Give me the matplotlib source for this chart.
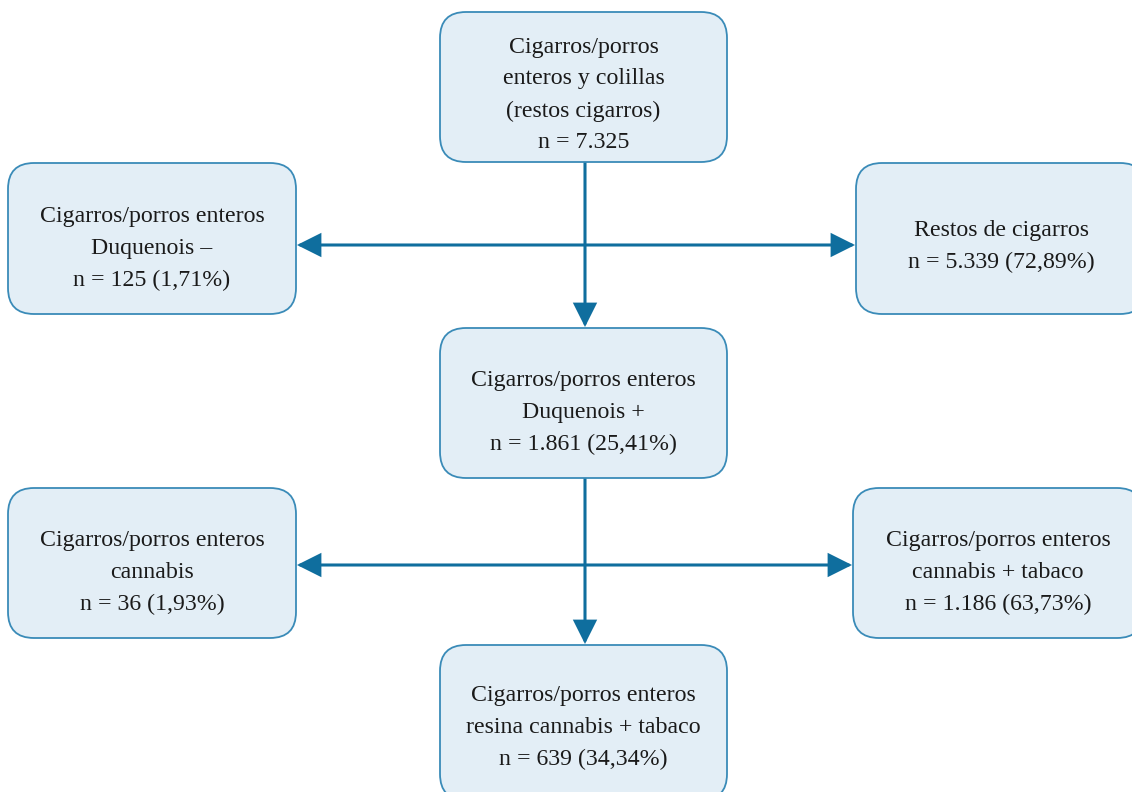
import matplotlib.pyplot as plt
from matplotlib.patches import FancyBboxPatch, FancyArrowPatch

# box labels (flowchart content)
top_label = "Cigarros/porros\nenteros y colillas\n(restos cigarros)\nn = 7.325"
left1_label = "Cigarros/porros enteros\nDuquenois –\nn = 125 (1,71%)"
right1_label = "Restos de cigarros\nn = 5.339 (72,89%)"
mid_label = "Cigarros/porros enteros\nDuquenois +\nn = 1.861 (25,41%)"
left2_label = "Cigarros/porros enteros\ncannabis\nn = 36 (1,93%)"
right2_label = "Cigarros/porros enteros\ncannabis + tabaco\nn = 1.186 (63,73%)"
bottom_label = "Cigarros/porros enteros\nresina cannabis + tabaco\nn = 639 (34,34%)"

FILL = "#e3eef6"
EDGE = "#3a8bb8"
ARROW = "#0f6e9e"

fig = plt.figure(figsize=(11.32, 7.92), dpi=100)
ax = fig.add_axes([0, 0, 1, 1])
ax.set_xlim(0, 1132)
ax.set_ylim(792, 0)
ax.axis("off")


def box(x0, y0, x1, y1, label, dy=10):
    p = FancyBboxPatch((x0, y0), x1 - x0, y1 - y0,
                       boxstyle="round,pad=0,rounding_size=26",
                       facecolor=FILL, edgecolor=EDGE, lw=1.3, zorder=2)
    ax.add_patch(p)
    ax.text((x0 + x1) / 2, (y0 + y1) / 2 + dy, label, ha="center", va="center",
            fontsize=17.2, family="Liberation Serif", color="#1a1a1a",
            linespacing=1.68, zorder=3)


box(440, 12, 727, 162, top_label, dy=8)
box(8, 163, 296, 314, left1_label)
box(856, 163, 1146, 314, right1_label, dy=8)
box(440, 328, 727, 478, mid_label)
box(8, 488, 296, 638, left2_label)
box(853, 488, 1143, 638, right2_label)
box(440, 645, 727, 800, bottom_label, dy=5)


def arrow(p0, p1, style="-|>"):
    a = FancyArrowPatch(p0, p1, arrowstyle=style + ",head_length=1.0,head_width=0.5",
                        color=ARROW, lw=2.2, mutation_scale=14,
                        shrinkA=0, shrinkB=0, joinstyle="miter", zorder=1)
    ax.add_patch(a)


# first level
arrow((585, 162), (585, 327))
arrow((585, 245), (297, 245))
arrow((585, 245), (855, 245))
# second level
arrow((585, 478), (585, 644))
arrow((585, 565), (297, 565))
arrow((585, 565), (852, 565))

fig.savefig("out.png", dpi=100)
